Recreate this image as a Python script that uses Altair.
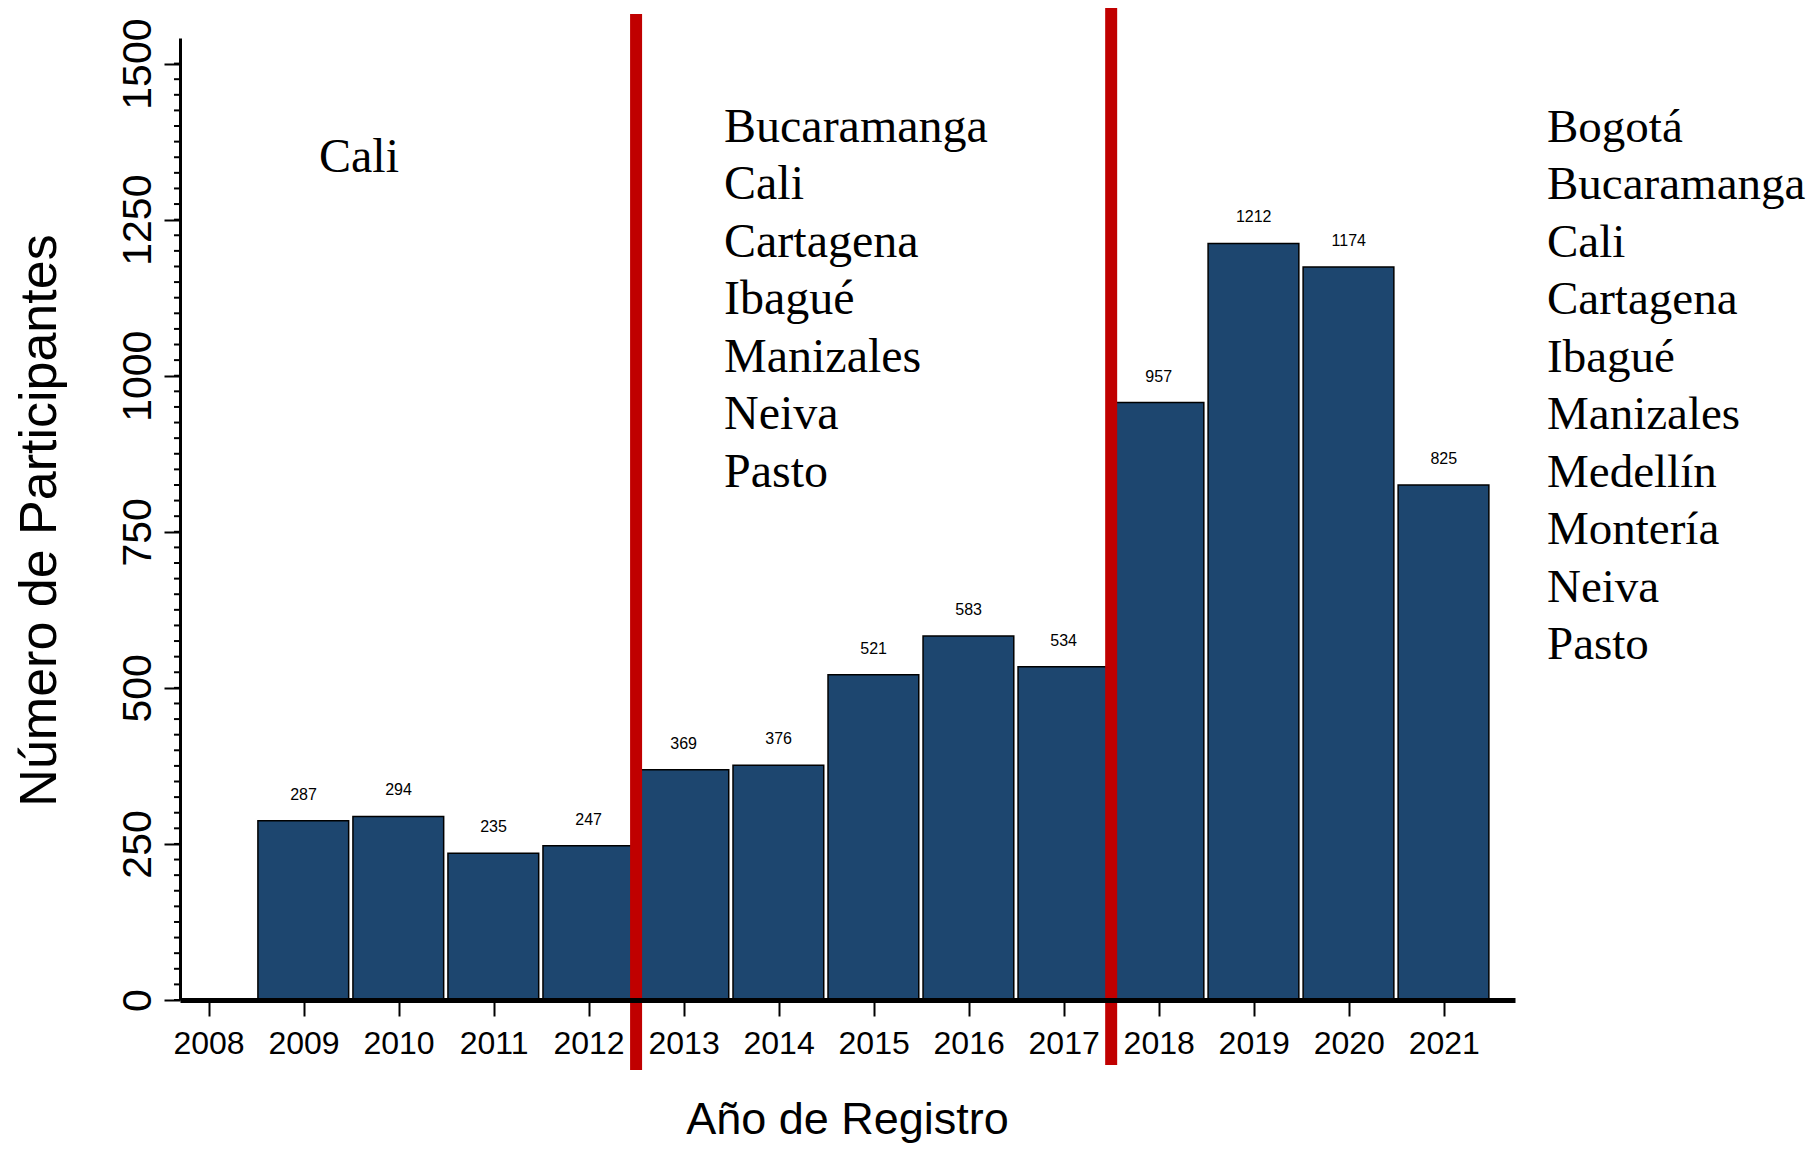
import altair as alt
import pandas as pd

# ---- data ----
years = [2009, 2010, 2011, 2012, 2013, 2014, 2015, 2016, 2017, 2018, 2019, 2020, 2021]
participants = [287, 294, 235, 247, 369, 376, 521, 583, 534, 957, 1212, 1174, 825]
x_tick_values = [2008, 2009, 2010, 2011, 2012, 2013, 2014, 2015, 2016, 2017, 2018, 2019, 2020, 2021]
y_tick_values = [0, 250, 500, 750, 1000, 1250, 1500]
y_minor_ticks = list(range(0, 1501, 25))
period_breaks = [2012.5, 2017.5]
cities_2009_2012 = ["Cali"]
cities_2013_2017 = ["Bucaramanga", "Cali", "Cartagena", "Ibagué", "Manizales", "Neiva", "Pasto"]
cities_2018_2021 = ["Bogotá", "Bucaramanga", "Cali", "Cartagena", "Ibagué", "Manizales",
                    "Medellín", "Montería", "Neiva", "Pasto"]

W, H = 1335, 962
SANS = "Liberation Sans"
SERIF = "Liberation Serif"

x_scale = alt.Scale(domain=[2007.7, 2021.75], nice=False, zero=False)
y_scale = alt.Scale(domain=[0, 1541], nice=False, zero=True)

df = pd.DataFrame({"year": years, "n": participants})

x_axis = alt.Axis(values=x_tick_values, format="d", labelFontSize=32, labelPadding=12,
                  tickSize=16, tickWidth=2, domainWidth=5, labelFlush=False, labelOverlap=False,
                  title="Año de Registro", titleFontSize=45, titleX=667, titleY=133,
                  titleAlign="center", titleBaseline="alphabetic", zindex=1)
y_axis = alt.Axis(values=y_tick_values, format="d", labelAngle=270, labelAlign="center",
                  labelBaseline="alphabetic", labelFontSize=41, labelPadding=14,
                  tickSize=16, tickWidth=2, domainWidth=3, labelFlush=False, labelOverlap=False,
                  title="Número de Participantes", titleFontSize=52, titleAngle=270,
                  titleX=-141, titleY=482, titleAlign="center", titleBaseline="middle", zindex=1)


def X(field):
    return alt.X(field, scale=x_scale, axis=x_axis)


def Y(field):
    return alt.Y(field, scale=y_scale, axis=y_axis)


bars = alt.Chart(df).transform_calculate(
    x0="datum.year - 0.48", x1="datum.year + 0.475"
).mark_rect(color="#1D466F", stroke="black", strokeWidth=1.5).encode(
    x=X("x0:Q"),
    x2="x1:Q",
    y=Y("n:Q"),
    y2=alt.datum(0),
)

labels = alt.Chart(df).mark_text(dy=-21, baseline="alphabetic", align="center",
                                 fontSize=16, font=SANS, color="black").encode(
    x=X("year:Q"),
    y=Y("n:Q"),
    text=alt.Text("n:Q"),
)

minor = alt.Chart(pd.DataFrame({"v": y_minor_ticks})).mark_rule(color="black", strokeWidth=2).encode(
    x=alt.value(-6), x2=alt.value(0),
    y=Y("v:Q"),
)

red1 = alt.Chart(pd.DataFrame({"b": [period_breaks[0]]})).mark_rule(color="#C00000", strokeWidth=12).encode(
    x=X("b:Q"), y=alt.value(-24), y2=alt.value(1032))
red2 = alt.Chart(pd.DataFrame({"b": [period_breaks[1]]})).mark_rule(color="#C00000", strokeWidth=12).encode(
    x=X("b:Q"), y=alt.value(-30), y2=alt.value(1027))


def city_text(cities, px, py, size=48):
    return alt.Chart(pd.DataFrame({"t": ["\n".join(cities)]})).mark_text(
        lineBreak="\n", lineHeight=57.5, align="left", baseline="alphabetic",
        font=SERIF, fontSize=size, color="black"
    ).encode(x=alt.value(px), y=alt.value(py), text="t:N")


t1 = city_text(cities_2009_2012, 139, 134)
t2 = city_text(cities_2013_2017, 544, 103.6)
t3 = city_text(cities_2018_2021, 1367, 103.6, 47)

chart = alt.layer(bars, labels, minor, red1, red2, t1, t2, t3).properties(
    width=W, height=H,
    autosize=alt.AutoSizeParams(type="none"),
    padding={"left": 172, "top": 30, "right": 297, "bottom": 145},
).configure_view(stroke=None).configure_axis(
    grid=False, labelFont=SANS, titleFont=SANS, labelColor="black", titleColor="black",
    domainColor="black", tickColor="black", titleFontWeight="normal"
)

chart.save("out.html", embed_options={"renderer": "svg", "actions": False})
